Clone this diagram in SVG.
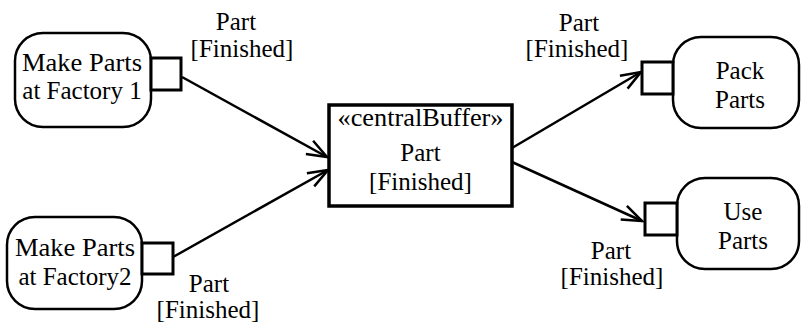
<svg xmlns="http://www.w3.org/2000/svg" width="801" height="324" viewBox="0 0 801 324">
<style>
text{font-family:"Liberation Serif","Times New Roman",serif;font-size:25px;fill:#000;text-anchor:middle}
.act{fill:#fff;stroke:#000;stroke-width:2.5}
.pin{fill:#fff;stroke:#000;stroke-width:3}
.buf{fill:#fff;stroke:#000;stroke-width:3.5}
.edge{fill:none;stroke:#000;stroke-width:2.5}
</style>
<defs>
<marker id="arr" markerUnits="userSpaceOnUse" markerWidth="30" markerHeight="30" viewBox="-25 -15 30 30" refX="0" refY="0" orient="auto">
<path d="M-20,-7.5 L0,0 L-20,7.5" fill="none" stroke="#000" stroke-width="2.5"/>
</marker>
</defs>
<rect width="801" height="324" fill="#fff"/>
<g id="connectors">
<line class="edge" x1="182" y1="77" x2="327" y2="157" marker-end="url(#arr)"/>
<line class="edge" x1="173" y1="257" x2="328" y2="170" marker-end="url(#arr)"/>
<line class="edge" x1="512" y1="148" x2="641" y2="72" marker-end="url(#arr)"/>
<line class="edge" x1="512" y1="162" x2="642" y2="221" marker-end="url(#arr)"/>
</g>
<g id="make1">
<rect class="act" x="15" y="33" width="136" height="94" rx="28"/>
<rect class="pin" x="151" y="58" width="30" height="32"/>
<text x="82" y="71" textLength="120" lengthAdjust="spacingAndGlyphs">Make Parts</text>
<text x="82" y="99">at Factory 1</text>
</g>
<g id="label1">
<text x="236" y="30">Part</text>
<text x="242" y="57">[Finished]</text>
</g>
<g id="make2">
<rect class="act" x="7" y="217" width="135" height="92" rx="28"/>
<rect class="pin" x="142" y="243" width="31" height="31"/>
<text x="75" y="256" textLength="120" lengthAdjust="spacingAndGlyphs">Make Parts</text>
<text x="75" y="285">at Factory2</text>
</g>
<g id="label2">
<text x="209" y="292">Part</text>
<text x="208" y="318">[Finished]</text>
</g>
<g id="buffer">
<rect class="buf" x="329" y="105" width="183" height="101"/>
<text x="420.5" y="126" textLength="166" lengthAdjust="spacingAndGlyphs">«centralBuffer»</text>
<text x="420.5" y="161">Part</text>
<text x="420.5" y="190">[Finished]</text>
</g>
<g id="label3">
<text x="579" y="31">Part</text>
<text x="577" y="57">[Finished]</text>
</g>
<g id="pack">
<rect class="act" x="673" y="37" width="126" height="91" rx="28"/>
<rect class="pin" x="642" y="62" width="31" height="32"/>
<text x="740" y="79">Pack</text>
<text x="740" y="108">Parts</text>
</g>
<g id="label4">
<text x="611" y="259">Part</text>
<text x="612" y="285">[Finished]</text>
</g>
<g id="use">
<rect class="act" x="677" y="178" width="122" height="91" rx="28"/>
<rect class="pin" x="645" y="203" width="32" height="32"/>
<text x="743" y="220">Use</text>
<text x="743" y="249">Parts</text>
</g>
</svg>
